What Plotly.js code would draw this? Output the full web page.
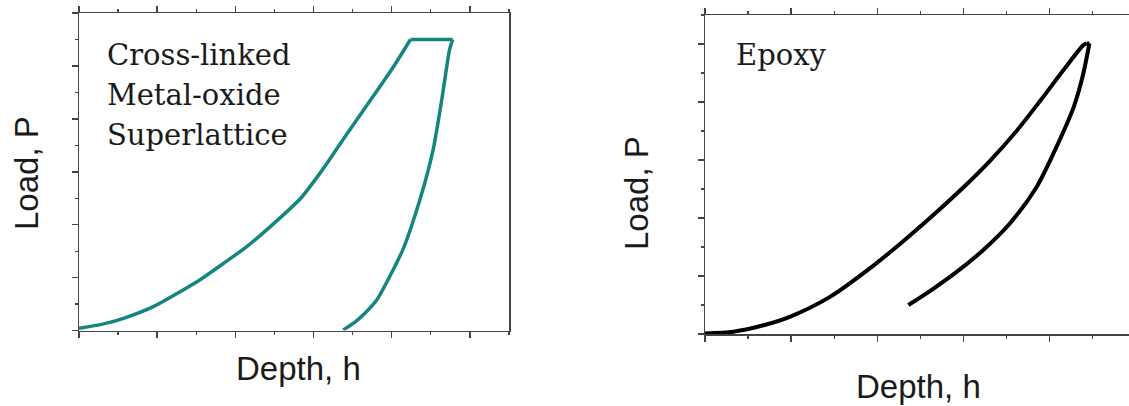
<!DOCTYPE html>
<html>
<head>
<meta charset="utf-8">
<script src="https://cdn.plot.ly/plotly-3.0.1.min.js"></script>
<style>html,body{margin:0;padding:0;background:#fff;}#chart{width:1129px;height:406px;}</style>
</head>
<body>
<div id="chart"></div>
<script>
// Left panel: cross-linked metal-oxide superlattice (teal)
const smLoadDepth   = [0, 0.30, 0.57, 0.95, 1.55, 1.85, 2.15, 2.49, 2.83, 3.12, 3.42, 3.76, 4.02, 4.24];
const smLoadLoad    = [0.04, 0.12, 0.23, 0.45, 0.96, 1.27, 1.59, 2.02, 2.49, 3.05, 3.70, 4.42, 4.98, 5.5];
const smHoldDepth   = [4.24, 4.78];
const smHoldLoad    = [5.5, 5.5];
const smUnloadDepth = [4.78, 4.74, 4.64, 4.53, 4.36, 4.14, 3.81, 3.66, 3.53, 3.38];
const smUnloadLoad  = [5.5, 5.31, 4.36, 3.42, 2.47, 1.52, 0.58, 0.33, 0.16, 0.01];

// Right panel: epoxy (black)
const epLoadDepth   = [0, 0.33, 0.68, 0.99, 1.45, 1.92, 2.30, 2.61, 3.0, 3.31, 3.62, 3.89, 4.16, 4.39, 4.43];
const epLoadLoad    = [0.01, 0.04, 0.15, 0.30, 0.64, 1.14, 1.60, 2.00, 2.53, 2.99, 3.51, 4.02, 4.55, 4.98, 5.01];
const epUnloadDepth = [4.46, 4.39, 4.28, 4.08, 3.85, 3.54, 3.23, 2.92, 2.61, 2.36];
const epUnloadLoad  = [5.01, 4.49, 3.92, 3.23, 2.54, 1.91, 1.45, 1.07, 0.74, 0.50];

const labelLeft  = ["Cross-linked", "Metal-oxide", "Superlattice"];
const labelRight = "Epoxy";
const xTitle = "Depth, h";
const yTitle = "Load, P";

const W = 1129, H = 406;
const px = x => x / W;
const py = y => 1 - y / H;

const teal = "#15867f";
const last = a => a[a.length - 1];

const traces = [
  {x: smLoadDepth, y: smLoadLoad, xaxis: "x", yaxis: "y", mode: "lines",
   line: {color: teal, width: 3.5, shape: "spline", smoothing: 0.6}},
  {x: smHoldDepth, y: smHoldLoad, xaxis: "x", yaxis: "y", mode: "lines",
   line: {color: teal, width: 3.5}},
  {x: smUnloadDepth, y: smUnloadLoad, xaxis: "x", yaxis: "y", mode: "lines",
   line: {color: teal, width: 3.5, shape: "spline", smoothing: 0.6}},
  {x: epLoadDepth, y: epLoadLoad, xaxis: "x2", yaxis: "y2", mode: "lines",
   line: {color: "#000", width: 4, shape: "spline", smoothing: 0.8}},
  {x: [last(epLoadDepth), epUnloadDepth[0]], y: [last(epLoadLoad), epUnloadLoad[0]],
   xaxis: "x2", yaxis: "y2", mode: "lines", line: {color: "#000", width: 4}},
  {x: epUnloadDepth, y: epUnloadLoad, xaxis: "x2", yaxis: "y2", mode: "lines",
   line: {color: "#000", width: 4, shape: "spline", smoothing: 0.8}}
];

const axCommon = {
  showgrid: false, zeroline: false, showticklabels: false,
  showline: true, linecolor: "#444", linewidth: 1.5,
  ticks: "outside", ticklen: 6, tickwidth: 1.5, tickcolor: "#444",
  dtick: 1, tick0: 0,
  minor: {ticks: "outside", ticklen: 3, tickwidth: 1.2, tickcolor: "#444", dtick: 0.5, tick0: 0, showgrid: false},
  fixedrange: true
};

const ann = (text, x, y, size, family, opts) => Object.assign({
  text: text, xref: "paper", yref: "paper", x: px(x), y: py(y),
  showarrow: false, font: {size: size, family: family, color: "#1a1a1a"}
}, opts || {});

const sans = "Liberation Sans, Arial, sans-serif";
const serif = "DejaVu Serif, serif";

const annotations = [
  ann(yTitle, 26, 173, 33, sans, {textangle: -90, xanchor: "center", yanchor: "middle"}),
  ann(xTitle, 298, 368, 33, sans, {xanchor: "center", yanchor: "middle"}),
  ann(yTitle, 637, 193, 33, sans, {textangle: -90, xanchor: "center", yanchor: "middle"}),
  ann(xTitle, 919, 386, 33, sans, {xanchor: "center", yanchor: "middle"}),
  ann(labelLeft[0], 105, 55, 29, serif, {xanchor: "left", yanchor: "middle"}),
  ann(labelLeft[1], 105, 95, 29, serif, {xanchor: "left", yanchor: "middle"}),
  ann(labelLeft[2], 105, 135, 29, serif, {xanchor: "left", yanchor: "middle"}),
  ann(labelRight, 734, 55, 29, serif, {xanchor: "left", yanchor: "middle"})
];

const layout = {
  width: W, height: H,
  margin: {l: 0, r: 0, t: 0, b: 0, pad: 0},
  paper_bgcolor: "#fff", plot_bgcolor: "#fff",
  showlegend: false,
  xaxis: Object.assign({}, axCommon, {domain: [px(79), px(509)], range: [0, 5.5], mirror: "ticks", anchor: "y"}),
  yaxis: Object.assign({}, axCommon, {domain: [py(330.5), py(13)], range: [0, 6], mirror: true, anchor: "x"}),
  xaxis2: Object.assign({}, axCommon, {domain: [px(705), 1], range: [0, 4.92], mirror: "ticks", anchor: "y2"}),
  yaxis2: Object.assign({}, axCommon, {domain: [py(334), py(15)], range: [0, 5.5], mirror: false, anchor: "x2"}),
  annotations: annotations
};

Plotly.newPlot("chart", traces, layout, {staticPlot: true, displayModeBar: false});
</script>
</body>
</html>
